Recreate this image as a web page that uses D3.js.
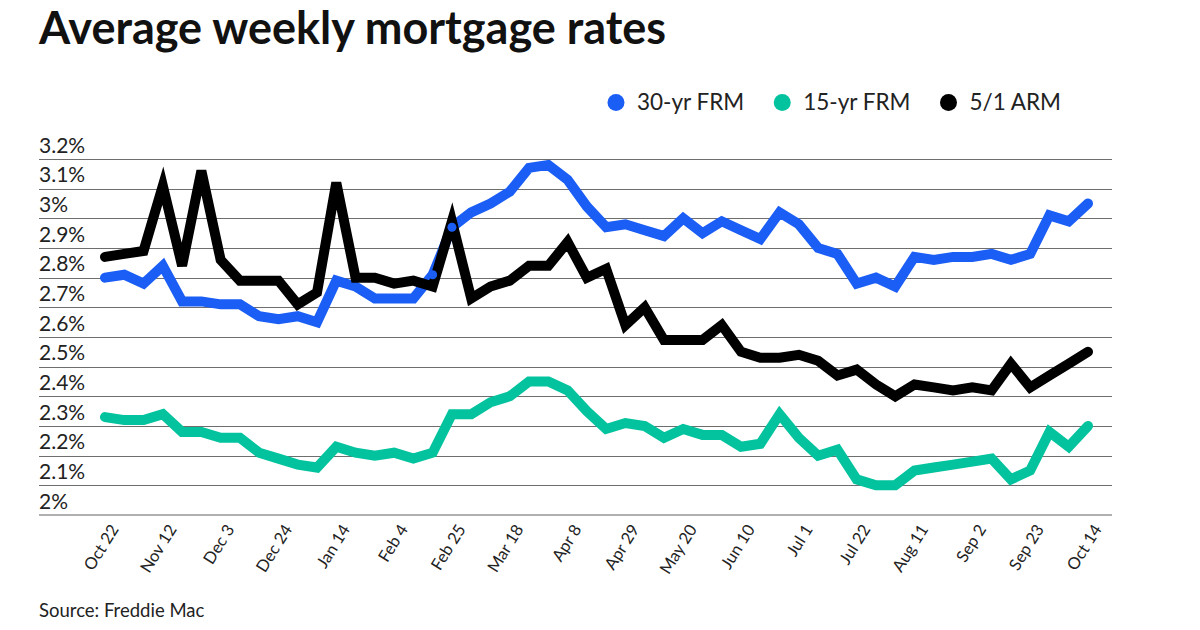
<!DOCTYPE html>
<html>
<head>
<meta charset="utf-8">
<script src="https://cdn.jsdelivr.net/npm/d3@7"></script>
<style>
  html, body { margin: 0; padding: 0; background: #fff; }
  svg { display: block; font-family: Lato, "Noto Sans", sans-serif; }
</style>
</head>
<body>
<svg id="chart" width="1200" height="630"></svg>
<script>
// ---- data ----
const weeks = ["Oct 22","Oct 29","Nov 5","Nov 12","Nov 19","Nov 25","Dec 3","Dec 10","Dec 17","Dec 24",
  "Dec 31","Jan 7","Jan 14","Jan 21","Jan 28","Feb 4","Feb 11","Feb 18","Feb 25","Mar 4",
  "Mar 11","Mar 18","Mar 25","Apr 1","Apr 8","Apr 15","Apr 22","Apr 29","May 6","May 13",
  "May 20","May 27","Jun 3","Jun 10","Jun 17","Jun 24","Jul 1","Jul 8","Jul 15","Jul 22",
  "Jul 29","Aug 5","Aug 11","Aug 19","Aug 26","Sep 2","Sep 9","Sep 16","Sep 23","Sep 30",
  "Oct 7","Oct 14"];
const frm30 = [2.80,2.81,2.78,2.84,2.72,2.72,2.71,2.71,2.67,2.66,
  2.67,2.65,2.79,2.77,2.73,2.73,2.73,2.81,2.97,3.02,
  3.05,3.09,3.17,3.18,3.13,3.04,2.97,2.98,2.96,2.94,
  3.00,2.95,2.99,2.96,2.93,3.02,2.98,2.90,2.88,2.78,
  2.80,2.77,2.87,2.86,2.87,2.87,2.88,2.86,2.88,3.01,
  2.99,3.05];
const frm15 = [2.33,2.32,2.32,2.34,2.28,2.28,2.26,2.26,2.21,2.19,
  2.17,2.16,2.23,2.21,2.20,2.21,2.19,2.21,2.34,2.34,
  2.38,2.40,2.45,2.45,2.42,2.35,2.29,2.31,2.30,2.26,
  2.29,2.27,2.27,2.23,2.24,2.34,2.26,2.20,2.22,2.12,
  2.10,2.10,2.15,2.16,2.17,2.18,2.19,2.12,2.15,2.28,
  2.23,2.30];
const arm51 = [2.87,2.88,2.89,3.11,2.84,3.16,2.86,2.79,2.79,2.79,
  2.71,2.75,3.12,2.80,2.80,2.78,2.79,2.77,2.99,2.73,
  2.77,2.79,2.84,2.84,2.92,2.80,2.83,2.64,2.70,2.59,
  2.59,2.59,2.64,2.55,2.53,2.53,2.54,2.52,2.47,2.49,
  2.44,2.40,2.44,2.43,2.42,2.43,2.42,2.51,2.43,2.47,
  2.51,2.55];
const seriesNames = ["30-yr FRM","15-yr FRM","5/1 ARM"];
const seriesColors = ["#1a5ef5","#02c39e","#000000"];
const yTicks = [2.0,2.1,2.2,2.3,2.4,2.5,2.6,2.7,2.8,2.9,3.0,3.1,3.2];
const yTickLabels = ["2%","2.1%","2.2%","2.3%","2.4%","2.5%","2.6%","2.7%","2.8%","2.9%","3%","3.1%","3.2%"];
const xTickEvery = 3;
const highlight30 = [17, 18];
const titleText = "Average weekly mortgage rates";
const sourceText = "Source: Freddie Mac";

// ---- layout ----
const svg = d3.select("#chart");
const left = 39, right = 1112;
const x = d3.scaleLinear().domain([0, weeks.length - 1]).range([105, 1088]);
const y = d3.scaleLinear().domain([2.0, 3.2]).range([515, 159]);

// title
svg.append("text").attr("x", 39).attr("y", 44)
  .attr("font-size", 45).attr("font-weight", 700).attr("fill", "#111")
  .text(titleText);

// legend (laid out from the text widths)
let lx = 616;
seriesNames.forEach((n, i) => {
  svg.append("circle").attr("cx", lx).attr("cy", 102.5).attr("r", 8.5)
    .attr("fill", seriesColors[i]);
  const t = svg.append("text").attr("x", lx + 21).attr("y", 110)
    .attr("font-size", 22.5).attr("fill", "#222").text(n);
  lx = lx + 21 + t.node().getComputedTextLength() + 38;
});

// grid + y labels
const grid = svg.append("g");
yTicks.forEach((t, i) => {
  const yy = Math.round(y(t)) + 0.5;
  grid.append("line").attr("x1", left).attr("x2", right)
    .attr("y1", i === 0 ? yy - 0.5 : yy).attr("y2", i === 0 ? yy - 0.5 : yy)
    .attr("stroke", i === 0 ? "#b0b0b0" : "#6e6e6e")
    .attr("stroke-width", i === 0 ? 2 : 1);
  grid.append("text").attr("x", left).attr("y", y(t) - 6.5)
    .attr("font-size", 21).attr("fill", "#222").text(yTickLabels[i]);
});

// x axis labels
const xAxis = d3.axisBottom(x)
  .tickValues(d3.range(0, weeks.length, xTickEvery))
  .tickFormat(i => weeks[i]).tickSize(0);
const xg = svg.append("g").attr("transform", "translate(0,526)").call(xAxis);
xg.select(".domain").remove();
xg.selectAll("text")
  .attr("font-family", "Lato, 'Noto Sans', sans-serif")
  .attr("font-size", 16.5).attr("fill", "#222")
  .attr("text-anchor", "end")
  .attr("transform", "translate(9,0) rotate(-58)")
  .attr("dy", "0.35em").attr("y", 0).attr("x", 0);

// lines
const line = d3.line().x((d, i) => x(i)).y(d => y(d));
const drawOrder = [1, 0, 2];
const data = [frm30, frm15, arm51];
drawOrder.forEach(k => {
  svg.append("path").datum(data[k]).attr("d", line)
    .attr("fill", "none").attr("stroke", seriesColors[k])
    .attr("stroke-width", 10).attr("stroke-linecap", "round")
    .attr("stroke-linejoin", "miter").attr("stroke-miterlimit", 4);
});
svg.append("g").selectAll("circle").data(highlight30).join("circle")
  .attr("cx", i => x(i)).attr("cy", i => y(frm30[i])).attr("r", 4.5)
  .attr("fill", seriesColors[0]);

// source
svg.append("text").attr("x", 39).attr("y", 617)
  .attr("font-size", 18.5).attr("fill", "#222").text(sourceText);
</script>
</body>
</html>
